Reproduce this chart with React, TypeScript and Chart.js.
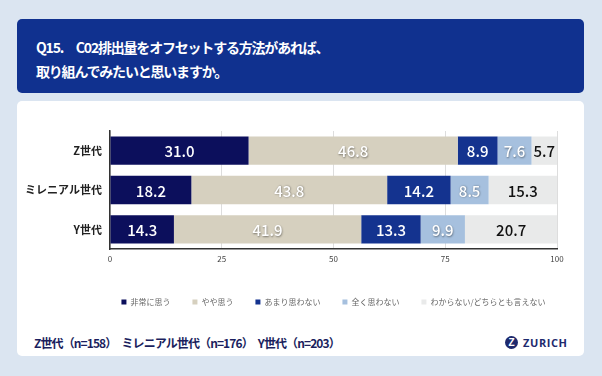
import React, { useEffect, useRef } from "react";
import { Chart, registerables } from "chart.js";

Chart.register(...registerables);

const categories = ["Z世代", "ミレニアル世代", "Y世代"];
const seriesNames = ["非常に思う", "やや思う", "あまり思わない", "全く思わない", "わからない/どちらとも言えない"];
const verySeries = [31.0, 18.2, 14.3];
const somewhatSeries = [46.8, 43.8, 41.9];
const notMuchSeries = [8.9, 14.2, 13.3];
const notAtAllSeries = [7.6, 8.5, 9.9];
const unknownSeries = [5.7, 15.3, 20.7];
const xTicks = [0, 25, 50, 75, 100];
const titleLines = ["Q15.　C02排出量をオフセットする方法があれば、", "取り組んでみたいと思いますか。"];
const footerText = "Z世代（n=158）　ミレニアル世代（n=176）　Y世代（n=203）";

const colors = ["#0c0f5c", "#d6d0bf", "#14338f", "#a6c0de", "#e9eaea"];
const labelColors = ["#ffffff", "#ffffff", "#ffffff", "#ffffff", "#111111"];
const labelShadow = [false, true, false, true, false];

const FONT = "'Noto Sans CJK JP', 'Noto Sans', sans-serif";

const labelPlugin = {
  id: "barLabels",
  afterDatasetsDraw(chart: any) {
    const ctx = chart.ctx;
    chart.data.datasets.forEach((ds: any, di: number) => {
      const meta = chart.getDatasetMeta(di);
      meta.data.forEach((bar: any, i: number) => {
        const v = ds.data[i];
        const cx = (bar.x + bar.base) / 2;
        ctx.save();
        ctx.font = `500 15px ${FONT}`;
        ctx.textAlign = "center";
        ctx.textBaseline = "middle";
        if (labelShadow[di]) {
          ctx.shadowColor = "rgba(0,0,0,0.45)";
          ctx.shadowBlur = 2;
          ctx.shadowOffsetX = 0.5;
          ctx.shadowOffsetY = 0.5;
        }
        ctx.fillStyle = labelColors[di];
        ctx.fillText(v.toFixed(1), cx, bar.y + 1);
        ctx.restore();
      });
    });
  },
};

// center the legend row under the plot area instead of the whole canvas
const legendCenterPlugin = {
  id: "legendCenter",
  afterLayout(chart: any) {
    const lg = chart.legend;
    if (!lg) return;
    const w = lg.right - lg.left;
    const c = (chart.chartArea.left + chart.chartArea.right) / 2;
    lg.left = c - w / 2;
    lg.right = c + w / 2;
  },
};

function ChartBox() {
  const ref = useRef<HTMLCanvasElement | null>(null);
  useEffect(() => {
    if (!ref.current) return;
    const all = [verySeries, somewhatSeries, notMuchSeries, notAtAllSeries, unknownSeries];
    const chart = new Chart(ref.current, {
      type: "bar",
      data: {
        labels: categories,
        datasets: all.map((d, i) => ({
          label: seriesNames[i],
          data: d,
          backgroundColor: colors[i],
          borderWidth: 0,
          barPercentage: 0.72,
          categoryPercentage: 1,
        })),
      },
      options: {
        indexAxis: "y",
        animation: false,
        responsive: false,
        maintainAspectRatio: false,
        devicePixelRatio: 1,
        layout: { padding: { left: 0, right: 27, top: 30, bottom: 10 } },
        plugins: {
          tooltip: { enabled: false },
          legend: {
            position: "bottom",
            labels: {
              boxWidth: 5,
              boxHeight: 5,
              padding: 22,
              color: "#666",
              font: { family: FONT, size: 8 },
            },
          },
        },
        scales: {
          x: {
            stacked: true,
            min: 0,
            max: 100,
            afterBuildTicks: (scale: any) => {
              scale.ticks = xTicks.map((v) => ({ value: v }));
            },
            afterFit: (scale: any) => {
              scale.height = 27;
            },
            grid: { color: "#dddddd", lineWidth: 1, drawTicks: false },
            border: { display: true, color: "#333333", width: 1.5 },
            ticks: { color: "#444", padding: 5, font: { family: FONT, size: 8 } },
          },
          y: {
            stacked: true,
            afterFit: (scale: any) => {
              scale.width = 93;
            },
            grid: { display: false, drawTicks: false },
            border: { display: true, color: "#333333", width: 1.5 },
            ticks: { color: "#222", padding: 8, font: { family: FONT, size: 11, weight: "bold" } },
          },
        },
      },
      plugins: [labelPlugin, legendCenterPlugin],
    } as any);
    return () => chart.destroy();
  }, []);
  return <canvas ref={ref} width={567} height={225} style={{ position: "absolute", left: 17, top: 101, width: 567, height: 225 }} />;
}

export default function App() {
  return (
    <div style={{ position: "fixed", left: 0, top: 0, width: 602, height: 376, background: "#dbe5f1", fontFamily: FONT, overflow: "hidden" }}>
      <div style={{ position: "absolute", left: 17, top: 19, width: 567, height: 74, background: "#10318f", borderRadius: 5 }}>
        {titleLines.map((t, i) => (
          <div key={i} style={{ position: "absolute", left: 19, top: 16 + i * 24, color: "#fff", fontSize: 14, fontWeight: 700, letterSpacing: -1.2, lineHeight: "24px", whiteSpace: "nowrap" }}>
            {t}
          </div>
        ))}
      </div>
      <div style={{ position: "absolute", left: 17, top: 101, width: 567, height: 255, background: "#fff", borderRadius: 5 }} />
      <ChartBox />
      <div style={{ position: "absolute", left: 34, top: 334, color: "#1b1f5e", fontSize: 12, fontWeight: 700, letterSpacing: -0.9, lineHeight: "18px", whiteSpace: "nowrap" }}>
        {footerText}
      </div>
      <div style={{ position: "absolute", left: 505, top: 334, display: "flex", alignItems: "center", height: 16 }}>
        <div style={{ width: 13, height: 13, borderRadius: "50%", background: "#1e2a6e", color: "#fff", fontSize: 10, fontWeight: 900, display: "flex", alignItems: "center", justifyContent: "center", fontFamily: "'Liberation Sans', sans-serif", lineHeight: "13px" }}>Z</div>
        <div style={{ marginLeft: 5, color: "#1e2a6e", fontSize: 11, fontWeight: 700, letterSpacing: 0.6, fontFamily: "'Open Sans', sans-serif" }}>ZURICH</div>
      </div>
    </div>
  );
}
